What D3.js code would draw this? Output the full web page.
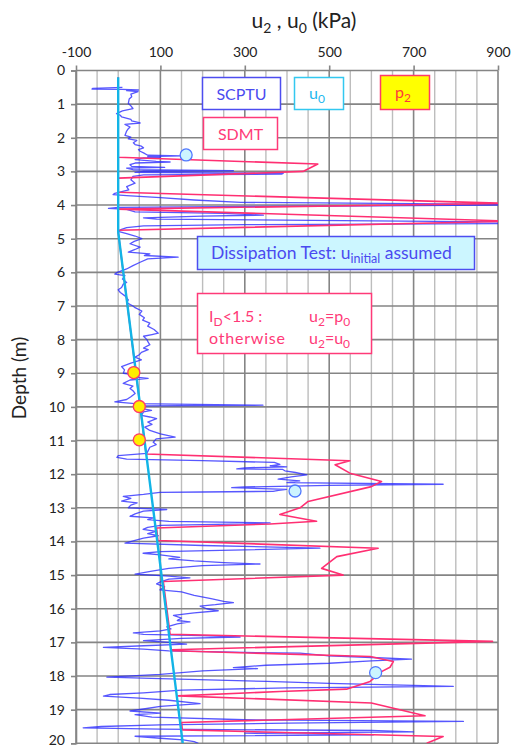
<!DOCTYPE html>
<html>
<head>
<meta charset="utf-8">
<script src="https://cdn.jsdelivr.net/npm/d3@7"></script>
<style>
  body { margin: 0; background: #fff; }
  svg { font-family: Lato, "Noto Sans", sans-serif; }
</style>
</head>
<body>
<div id="chart"></div>
<script>
// x ticks (kPa) and depth ticks (m)
var xTicks = [-100, 100, 300, 500, 700, 900]
var depthTicks = d3.range(0, 21)

// SCPTU u2 trace
var scptuDepth = [0.50,0.53,0.55,0.56,0.58,0.60,0.63,0.70,0.78,0.85,0.98,1.05,1.13,1.20,1.28,1.33,1.38,1.45,1.50,1.56,1.60,1.68,1.73,1.80,1.93,1.98,2.03,2.08,2.15,2.20,2.25,2.30,2.35,2.40,2.45,2.52,2.54,2.56,2.58,2.60,
  2.65,2.70,2.72,2.75,2.80,2.85,2.88,2.90,2.95,2.98,3.00,3.03,3.06,3.08,3.10,3.15,3.25,3.35,3.45,3.55,3.65,3.69,3.72,3.78,3.85,3.92,3.96,3.99,4.02,4.07,
  4.10,4.13,4.20,4.25,4.30,4.33,4.38,4.42,4.47,4.51,4.55,4.58,4.62,4.67,4.72,4.78,4.85,4.92,5.00,5.08,5.15,5.25,5.32,5.40,5.45,5.50,5.55,5.60,5.70,5.80,
  5.90,6.00,6.05,6.10,6.20,6.30,6.35,6.45,6.52,6.60,6.70,6.82,6.90,7.00,7.05,7.15,7.25,7.35,7.42,7.51,7.60,7.70,7.81,7.85,7.90,8.00,8.10,8.15,8.25,8.30,
  8.38,8.45,8.52,8.60,8.70,8.80,8.90,9.00,9.05,9.10,9.15,9.20,9.30,9.38,9.45,9.52,9.60,9.70,9.78,9.85,9.90,9.95,9.97,10.02,10.10,10.15,10.25,10.30,10.35,10.45,
  10.52,10.60,10.70,10.80,10.90,10.95,11.05,11.12,11.20,11.30,11.38,11.45,11.50,11.55,11.60,11.65,11.71,11.75,11.78,11.81,11.84,11.86,11.90,11.95,12.02,12.08,12.15,12.20,12.25,12.30,
  12.33,12.38,12.40,12.45,12.48,12.51,12.53,12.54,12.60,12.66,12.72,12.80,12.85,12.92,13.00,13.05,13.10,13.18,13.25,13.30,13.35,13.40,13.45,13.48,13.52,13.58,13.64,13.70,13.77,13.83,
  13.90,13.97,14.05,14.12,14.20,14.25,14.30,14.35,14.40,14.47,14.52,14.58,14.63,14.67,14.72,14.80,14.88,14.97,15.03,15.08,15.12,15.20,15.26,15.35,15.44,15.50,15.60,15.70,15.78,15.82,
  15.88,15.92,16.00,16.06,16.12,16.20,16.28,16.35,16.39,16.45,16.54,16.60,16.66,16.72,16.76,16.80,16.84,16.88,16.95,17.00,17.05,17.10,17.15,17.20,17.25,17.30,17.32,17.40,17.45,17.50,
  17.55,17.62,17.68,17.75,17.78,17.85,17.95,18.03,18.08,18.16,18.22,18.28,18.31,18.35,18.42,18.50,18.55,18.60,18.66,18.72,18.82,18.90,18.98,19.04,19.10,19.15,19.22,19.30,19.35,19.40,
  19.45,19.50,19.54,19.58,19.62,19.66,19.70,19.75,19.79,19.85,19.90,19.95,20.00]
var scptuU2 = [10,-60,-62,10,48,20,47,30,32,26,24,30,35,10,-4,5,8,30,32,52,16,28,24,20,16,30,24,44,36,40,55,60,48,52,60,70,150,70,100,60,
  40,90,123,40,28,32,110,20,35,273,60,40,391,387,60,35,30,40,20,25,-8,-12,20,100,180,290,700,1000,600,0,
  -23,20,40,250,344,200,60,91,600,1000,1000,300,60,20,8,0,20,40,56,38,28,52,40,24,75,62,142,70,52,35,
  20,-2,-8,16,10,20,12,8,0,5,16,24,20,35,40,56,50,62,58,75,70,85,95,80,60,68,72,75,60,71,
  55,50,40,55,30,8,15,12,40,30,71,28,12,35,28,35,40,30,20,-8,40,343,60,45,79,60,55,75,91,70,
  80,63,75,100,135,90,83,90,75,71,68,0,-3,20,200,370,383,360,399,300,281,390,395,420,447,410,379,430,400,770,
  500,300,269,399,380,367,200,99,60,12,30,8,45,30,24,115,60,40,28,83,70,120,360,300,100,70,59,90,70,95,
  60,40,16,200,478,300,100,59,100,146,120,180,250,336,200,120,80,40,120,170,120,100,91,110,99,150,180,220,250,273,
  230,194,210,237,180,131,150,140,170,140,115,125,100,36,60,200,289,150,60,120,162,60,-35,60,120,300,431,500,600,695,
  600,500,350,273,330,200,100,-27,100,352,500,700,794,400,150,60,-20,-35,50,120,194,100,60,28,100,40,80,300,818,400,
  100,-40,-83,100,600,700,300,604,40,100,154,180,190]

// SDMT p2
var sdmtDepth = [0.20,2.58,2.78,3.00,3.20,3.62,3.95,4.12,4.48,4.75,4.80,11.40,11.60,11.72,11.97,12.22,12.37,12.81,13.00,13.20,13.40,13.48,13.60,13.97,
  14.20,14.45,14.80,15.00,15.19,16.76,16.97,17.22,17.25,17.42,17.57,17.74,17.87,18.16,18.39,18.46,18.59,18.80,19.18,19.38,19.60,19.80,20.00]
var sdmtP2 = [0,0,473,438,0,0,920,0,930,0,0,66,549,514,549,624,600,450,431,383,470,360,91,94,
  616,518,482,533,107,123,887,127,130,597,652,644,624,597,541,383,142,600,727,150,152,770,731]

// hydrostatic u0
var u0Depth = [0.20, 4.80, 20.00]
var u0Val = [0, 0, 153]

// dissipation tests (u initial) and u2 = p0 points
var dissDepth = [2.51, 12.50, 17.90]
var dissU = [161, 419, 610]
var p0Depth = [8.98, 9.99, 10.98]
var p0Val = [37, 50, 50]

var W = 512, H = 749
var x = d3.scaleLinear().domain([-100, 900]).range([76, 498])
var y = d3.scaleLinear().domain([0, 20]).range([70.5, 743.3])

var svg = d3.select("#chart").append("svg")
    .attr("width", W).attr("height", H)

svg.append("clipPath").attr("id", "plot")
    .append("rect")
    .attr("x", x(-100)).attr("y", y(0))
    .attr("width", x(900) - x(-100)).attr("height", y(20) - y(0))

/* grid */
var grid = svg.append("g")
d3.range(-100, 901, 50).forEach(v => {
    var major = xTicks.indexOf(v) !== -1
    grid.append("line")
        .attr("x1", x(v)).attr("x2", x(v))
        .attr("y1", y(0)).attr("y2", y(20))
        .style("stroke", major ? "#858585" : "#bdbdbd")
        .style("stroke-width", major ? 1.6 : 1.4)
})
depthTicks.forEach(d => {
    grid.append("line")
        .attr("x1", x(-100)).attr("x2", x(900))
        .attr("y1", y(d)).attr("y2", y(d))
        .style("stroke", "#858585")
        .style("stroke-width", 1.6)
})

/* axes */
var topAxis = d3.axisTop(x).tickValues(xTicks).tickSize(5).tickPadding(9)
    .tickFormat(d => String(d))
var gTop = svg.append("g").attr("transform", `translate(0, ${y(0)})`).call(topAxis)
gTop.select(".domain").remove()
gTop.selectAll("line").style("stroke", "#858585").style("stroke-width", 1.6)
gTop.selectAll("text").style("font-size", "14px").style("fill", "#222")
    .style("font-family", "Lato, sans-serif")

var leftAxis = d3.axisLeft(y).tickValues(depthTicks).tickSize(5).tickPadding(6)
var gLeft = svg.append("g").attr("transform", `translate(${x(-100)}, 0)`).call(leftAxis)
gLeft.select(".domain").style("stroke", "#858585").style("stroke-width", 1.6)
gLeft.selectAll("line").style("stroke", "#858585").style("stroke-width", 1.6)
gLeft.selectAll("text").style("font-size", "14px").style("fill", "#222")
    .style("font-family", "Lato, sans-serif")
    .attr("dy", d => d === 20 ? "0.1em" : "0.32em")

/* titles */
var title = svg.append("text")
    .attr("x", 304).attr("y", 28)
    .attr("text-anchor", "middle")
    .style("font-size", "21px").style("fill", "#222")
title.append("tspan").text("u")
title.append("tspan").text("2").attr("dy", 5).style("font-size", "14px")
title.append("tspan").text(" , u").attr("dy", -5)
title.append("tspan").text("0").attr("dy", 5).style("font-size", "14px")
title.append("tspan").text(" (kPa)").attr("dy", -5)

svg.append("text")
    .attr("transform", "translate(26, 378) rotate(-90)")
    .attr("text-anchor", "middle")
    .style("font-size", "19px").style("fill", "#222")
    .text("Depth (m)")

/* series */
var line = d3.line().x(d => x(d[1])).y(d => y(d[0]))
var plot = svg.append("g").attr("clip-path", "url(#plot)")

plot.append("path")
    .attr("d", line(d3.zip(scptuDepth, scptuU2)))
    .style("fill", "none")
    .style("stroke", "rgba(40, 40, 255, 0.78)")
    .style("stroke-width", 1.3)
    .style("stroke-linejoin", "round")

plot.append("path")
    .attr("d", line(d3.zip(sdmtDepth, sdmtP2)))
    .style("fill", "none")
    .style("stroke", "#ff2f72")
    .style("stroke-width", 1.6)
    .style("stroke-linejoin", "round")

plot.append("path")
    .attr("d", line(d3.zip(u0Depth, u0Val)))
    .style("fill", "none")
    .style("stroke", "#12b4e6")
    .style("stroke-width", 2.4)

plot.selectAll(".diss")
    .data(d3.zip(dissDepth, dissU)).enter()
    .append("circle")
    .attr("cx", d => x(d[1])).attr("cy", d => y(d[0]))
    .attr("r", 6)
    .style("fill", "#ccf4ff").style("stroke", "#4f78ff").style("stroke-width", 1.3)

plot.selectAll(".p0")
    .data(d3.zip(p0Depth, p0Val)).enter()
    .append("circle")
    .attr("cx", d => x(d[1])).attr("cy", d => y(d[0]))
    .attr("r", 6)
    .style("fill", "#ffee00").style("stroke", "#ff3a6a").style("stroke-width", 1.4)

/* legend boxes */
var box = (x0, y0, w, h, stroke, fill) => svg.append("rect")
    .attr("x", x0).attr("y", y0).attr("width", w).attr("height", h)
    .style("fill", fill).style("stroke", stroke).style("stroke-width", 1.5)

box(202.5, 77.5, 78, 32, "#4d4df0", "#fff")
svg.append("text").attr("x", 241.5).attr("y", 99.5).attr("text-anchor", "middle")
    .style("font-size", "16px").style("fill", "#4a4af0").text("SCPTU")

box(294.5, 77.5, 49, 32, "#33c8f0", "#fff")
var t = svg.append("text").attr("x", 317).attr("y", 99).attr("text-anchor", "middle")
    .style("font-size", "16px").style("fill", "#22b8ee")
t.append("tspan").text("u")
t.append("tspan").text("0").attr("dy", 4).style("font-size", "12px")

box(380.5, 75.5, 49, 34, "#ff3a6a", "#ffff00")
t = svg.append("text").attr("x", 403).attr("y", 98).attr("text-anchor", "middle")
    .style("font-size", "16px").style("fill", "#ff3a3a")
t.append("tspan").text("p")
t.append("tspan").text("2").attr("dy", 4).style("font-size", "12px")

box(203.5, 117.5, 74, 32, "#ff3a78", "#fff")
svg.append("text").attr("x", 240.5).attr("y", 139.5).attr("text-anchor", "middle")
    .style("font-size", "16px").style("fill", "#ff3a78").text("SDMT")

box(197.5, 236.5, 277, 33, "#4d4df0", "#ccf6ff")
t = svg.append("text").attr("x", 211).attr("y", 258.5)
    .style("font-size", "17.5px").style("fill", "#4a4af0")
t.append("tspan").text("Dissipation Test: u")
t.append("tspan").text("initial").attr("dy", 4).style("font-size", "12.5px")
t.append("tspan").text(" assumed").attr("dy", -4)

box(197.5, 293.5, 174, 60, "#ff3a78", "#fff")
var pink = "#ff3a78"
t = svg.append("text").attr("x", 209).attr("y", 322).style("font-size", "16px").style("fill", pink)
t.append("tspan").text("I")
t.append("tspan").text("D").attr("dy", 4).style("font-size", "12px")
t.append("tspan").text("<1.5 :").attr("dy", -4)
t = svg.append("text").attr("x", 309).attr("y", 322).style("font-size", "16px").style("fill", pink)
t.append("tspan").text("u")
t.append("tspan").text("2").attr("dy", 4).style("font-size", "12px")
t.append("tspan").text("=p").attr("dy", -4)
t.append("tspan").text("0").attr("dy", 4).style("font-size", "12px")
svg.append("text").attr("x", 209).attr("y", 344).style("font-size", "16px").style("fill", pink)
    .style("letter-spacing", "0.8px").text("otherwise")
t = svg.append("text").attr("x", 309).attr("y", 344).style("font-size", "16px").style("fill", pink)
t.append("tspan").text("u")
t.append("tspan").text("2").attr("dy", 4).style("font-size", "12px")
t.append("tspan").text("=u").attr("dy", -4)
t.append("tspan").text("0").attr("dy", 4).style("font-size", "12px")
</script>
</body>
</html>
